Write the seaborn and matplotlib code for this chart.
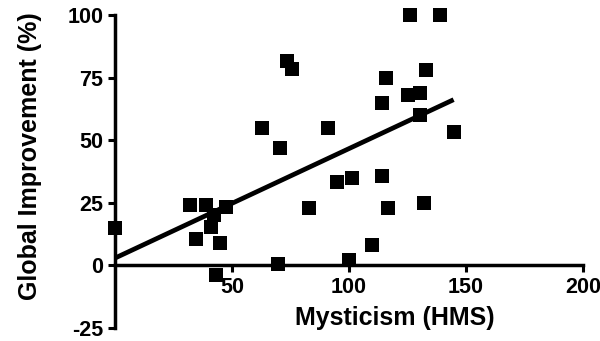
import matplotlib
matplotlib.use("Agg")
import matplotlib.pyplot as plt
import seaborn as sns
import pandas as pd

mysticism = [0, 32, 38.7, 47.5, 34.8, 41, 42.5, 45, 43, 69.5, 63, 70.6, 73.3, 75.5,
             83, 91, 95, 101.4, 100, 110, 114, 114, 116, 116.7, 125, 130.5, 130.5,
             132, 133, 126, 139, 144.7]
improvement = [15, 24, 24, 23.5, 10.7, 15.3, 20, 9, -4, 0.7, 55, 47, 81.6, 78.4,
               23, 55, 33.3, 35, 2, 8, 35.7, 65, 75, 23, 68, 68.7, 60,
               25, 78, 100, 100, 53.3]
x_ticks = [50, 100, 150, 200]
y_ticks = [-25, 0, 25, 50, 75, 100]

df = pd.DataFrame({"Mysticism (HMS)": mysticism, "Global Improvement (%)": improvement})

sns.set_style("ticks")
plt.rcParams['font.family'] = ['Liberation Sans', 'DejaVu Sans']
plt.rcParams['font.weight'] = 'bold'
plt.rcParams['axes.unicode_minus'] = False

fig = plt.figure(figsize=(6, 3.41), dpi=100)
ax = fig.add_axes([115/600, 13/341, 468/600, 313/341])

sns.regplot(data=df, x="Mysticism (HMS)", y="Global Improvement (%)", ax=ax, ci=None,
            truncate=True, color="black", marker="s",
            scatter_kws={"s": 95, "linewidths": 0, "clip_on": False, "alpha": 1},
            line_kws={"lw": 3.4, "solid_capstyle": "butt"})

ax.set_xlim(0, 200)
ax.set_ylim(-25, 100)
ax.set_xticks(x_ticks)
ax.set_yticks(y_ticks)
ax.spines['bottom'].set_position(('data', 0))
ax.spines['top'].set_visible(False)
ax.spines['right'].set_visible(False)
for s in ('left', 'bottom'):
    ax.spines[s].set_linewidth(2.5)
    ax.spines[s].set_color('black')
ax.tick_params(axis='both', width=2.2, length=5, labelsize=15.5, colors='black')
for lab in ax.get_xticklabels() + ax.get_yticklabels():
    lab.set_fontweight('bold')

ax.set_xlabel("Mysticism (HMS)", fontsize=18, fontweight='bold', color='black')
ax.set_ylabel("Global Improvement (%)", fontsize=18, fontweight='bold', color='black')
ax.xaxis.set_label_coords(0.598, 0.07)
ax.yaxis.set_label_coords(-0.155, 0.55)

fig.savefig("out.png", dpi=100)
